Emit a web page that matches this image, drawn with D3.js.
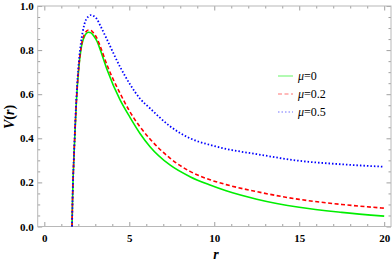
<!DOCTYPE html>
<html>
<head>
<meta charset="utf-8">
<script src="https://cdn.jsdelivr.net/npm/d3@7"></script>
<style>
  body { margin: 0; background: #fff; }
  svg { display: block; }
</style>
</head>
<body>
<svg id="chart" width="392" height="264"></svg>
<script>
// values
const rVals = [1.63, 1.66, 1.76, 1.89, 2.03, 2.15, 2.35, 2.6, 2.75, 2.9, 3.1, 3.3, 3.7, 4.45, 5.04, 5.63, 6.22, 7.39, 8.57, 9.75, 10.7, 12.5, 15, 17.5, 20];
const vMu0  = [0, 0.12, 0.35, 0.57, 0.72, 0.80, 0.86, 0.881, 0.878, 0.865, 0.84, 0.80, 0.71, 0.575, 0.495, 0.422, 0.362, 0.279, 0.226, 0.188, 0.162, 0.124, 0.087, 0.064, 0.047];
const vMu02 = [0, 0.12, 0.35, 0.575, 0.725, 0.805, 0.87, 0.891, 0.889, 0.877, 0.853, 0.815, 0.73, 0.605, 0.52, 0.452, 0.397, 0.31, 0.25, 0.212, 0.19, 0.158, 0.123, 0.1, 0.083];
const vMu05 = [0, 0.12, 0.355, 0.585, 0.745, 0.83, 0.915, 0.953, 0.959, 0.955, 0.94, 0.91, 0.846, 0.725, 0.645, 0.58, 0.536, 0.455, 0.40, 0.37, 0.352, 0.328, 0.298, 0.282, 0.271];
const seriesNames = ["0", "0.2", "0.5"];
const xTicks = [0, 5, 10, 15, 20];
const yTicks = [0, 0.2, 0.4, 0.6, 0.8, 1.0];

const serif = '"Liberation Serif", "Times New Roman", Times, "DejaVu Serif", serif';

const svg = d3.select('#chart');
const margin = {left: 37.7, right: 1, top: 6, bottom: 37.5};
const w = 392 - margin.left - margin.right;
const h = 264 - margin.top - margin.bottom;
const g = svg.append('g').attr('transform', `translate(${margin.left},${margin.top})`);

const x = d3.scaleLinear().domain([-0.39, 20.4]).range([0, w]);
const y = d3.scaleLinear().domain([0, 1]).range([h, 0]);

const tickCol = '#a0a0a0';

// minor ticks (all four sides)
const xMinor = d3.range(0, 21, 1).filter(v => v % 5 !== 0);
const yMinor = d3.range(0, 1.001, 0.05).filter(v => Math.abs(v * 5 - Math.round(v * 5)) > 1e-6);

function styleAxis(sel) {
  sel.select('.domain').remove();
  sel.selectAll('line').attr('stroke', tickCol);
  sel.attr('font-family', serif).attr('font-size', 11);
  sel.selectAll('text')
    .style('font-family', serif)
    .style('font-weight', 'bold')
    .attr('fill', '#000');
}

g.append('g').attr('transform', `translate(0,${h})`)
  .call(d3.axisBottom(x).tickValues(xMinor).tickSize(-2.5).tickFormat('')).call(styleAxis);
g.append('g')
  .call(d3.axisTop(x).tickValues(xMinor).tickSize(-2.5).tickFormat('')).call(styleAxis);
g.append('g')
  .call(d3.axisLeft(y).tickValues(yMinor).tickSize(-2.5).tickFormat('')).call(styleAxis);
g.append('g').attr('transform', `translate(${w},0)`)
  .call(d3.axisRight(y).tickValues(yMinor).tickSize(-2.5).tickFormat('')).call(styleAxis);

// major ticks
g.append('g').attr('transform', `translate(0,${h})`)
  .call(d3.axisBottom(x).tickValues(xTicks).tickSize(-4.5).tickPadding(8).tickFormat(d3.format('d')))
  .call(styleAxis);
g.append('g')
  .call(d3.axisTop(x).tickValues(xTicks).tickSize(-4.5).tickFormat('')).call(styleAxis);
g.append('g')
  .call(d3.axisLeft(y).tickValues(yTicks).tickSize(-4.5).tickPadding(4).tickFormat(d3.format('.1f')))
  .call(styleAxis);
g.append('g').attr('transform', `translate(${w},0)`)
  .call(d3.axisRight(y).tickValues(yTicks).tickSize(-4.5).tickFormat('')).call(styleAxis);

// frame
g.append('rect').attr('width', w).attr('height', h)
  .attr('fill', 'none').attr('stroke', '#b8b8b8').attr('stroke-width', 1);

// curves
const line = d3.line()
  .x(d => x(d[0]))
  .y(d => y(d[1]))
  .curve(d3.curveMonotoneX);

const series = [
  {name: seriesNames[0], vals: vMu0,  color: '#00ee00', dash: null,  width: 1.6},
  {name: seriesNames[1], vals: vMu02, color: '#ff0000', dash: '4,2.5', width: 1.6},
  {name: seriesNames[2], vals: vMu05, color: '#0000ff', dash: '1.5,2', width: 1.8}
];

series.forEach(s => {
  g.append('path')
    .datum(rVals.map((r, i) => [r, s.vals[i]]))
    .attr('d', line)
    .attr('fill', 'none')
    .attr('stroke', s.color)
    .attr('stroke-width', s.width)
    .attr('stroke-dasharray', s.dash);
});

// legend
const leg = svg.append('g').attr('transform', 'translate(278,76)');
series.forEach((s, i) => {
  const row = leg.append('g').attr('transform', `translate(0,${i * 18})`);
  row.append('line').attr('x1', 0).attr('x2', 15)
    .attr('stroke', s.color).attr('stroke-opacity', 0.55)
    .attr('stroke-width', 1.1).attr('stroke-dasharray', s.dash);
  const t = row.append('text').attr('x', 20).attr('y', 4)
    .style('font-family', serif).style('font-size', '12px');
  t.append('tspan').style('font-style', 'italic').text('μ');
  t.append('tspan').text('=' + s.name);
});

// axis labels
svg.append('text')
  .attr('x', 216).attr('y', 259)
  .attr('text-anchor', 'middle')
  .style('font-family', serif).style('font-size', '14px')
  .style('font-weight', 'bold').style('font-style', 'italic')
  .text('r');

const yl = svg.append('text')
  .attr('transform', 'translate(14,117) rotate(-90)')
  .attr('text-anchor', 'middle')
  .style('font-family', serif).style('font-size', '14px')
  .style('font-weight', 'bold');
yl.append('tspan').style('font-style', 'italic').text('V');
yl.append('tspan').text('(');
yl.append('tspan').style('font-style', 'italic').text('r');
yl.append('tspan').text(')');
</script>
</body>
</html>
